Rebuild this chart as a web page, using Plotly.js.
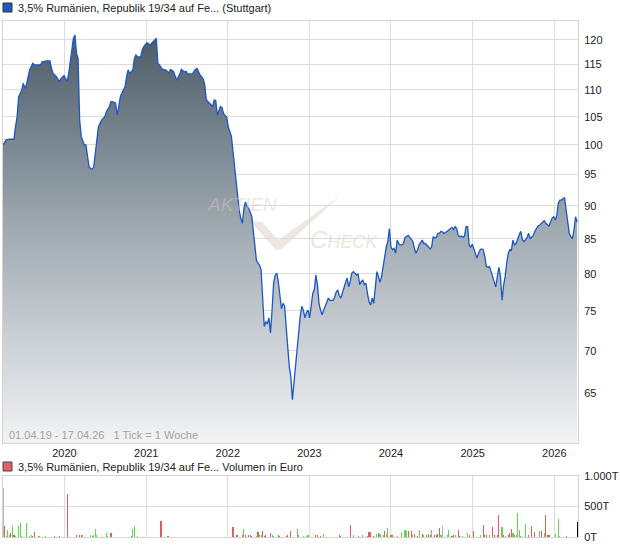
<!DOCTYPE html>
<html>
<head>
<meta charset="utf-8">
<script src="https://cdn.plot.ly/plotly-3.0.1.min.js"></script>
<style>html,body{margin:0;padding:0;background:#fff;}#chart{width:620px;height:546px;}</style>
</head>
<body>
<div id="chart"></div>
<script>
// ---- DATA ----
const startDate = '2019-04-01';
const endDate = '2026-04-17';
const seriesName = '3,5% Rumänien, Republik 19/34 auf Fe... (Stuttgart)';
const volumeName = '3,5% Rumänien, Republik 19/34 auf Fe... Volumen in Euro';
const rangeNote = '01.04.19 - 17.04.26   1 Tick = 1 Woche';

// week index (1 tick = 1 week, counted from startDate) and closing price
const priceWeeks = [
  0,2,4,7,8,9,10,12,13,14,15,17,19,20,24,25,28,30,31,32,34,36,37,39,40,41,42,43,44,45,46,47,48,49,50,51,52,53,54,55,56,57,58,59,60,61,63,65,66,68,69,70,72,73,74,75,76,78,79,80,81,83,84,85,86,88,89,90,92,
  94,95,97,98,99,100,102,104,106,107,109,110,111,113,114,116,117,118,121,123,124,126,128,129,130,132,134,135,136,137,139,140,141,143,144,146,147,148,149,150,151,152,153,154,155,
  156,157,159,160,161,162,163,164,165,166,167,168,169,170,171,172,173,174,175,176,177,178,179,180,181,182,183,184,185,186,187,188,189,190,191,192,193,194,195,196,197,198,199,200,201,202,203,204,205,206,207,208,209,211,212,213,214,215,216,217,218,219,220,221,222,223,224,226,227,228,229,230,231,232,233,234,235,236,237,238,239,240,241,242,243,244,
  245,246,247,248,249,250,251,252,253,254,255,256,257,258,259,261,262,263,264,265,266,268,269,270,271,272,273,274,275,276,277,278,279,280,281,282,284,285,286,287,288,289,290,291,292,293,294,295,296,297,298,299,300,301,302,303,304,305,306,307,308,309,310,311,312,313,314,315,316,317,318,319,320,321,322,323,324,325,326,327,328,329,330,331,332,333,334,335,336,337,338,339,340,341,342,343,344,345,346,347,349,350,351,352,353,354,355,356,357,358,359,360,361,362,363,364,365,366,367
];
const prices = [
  100.0,100.9,101.0,101.0,103.2,105.0,108.7,110.0,111.3,110.3,111.0,113.9,115.2,114.9,114.9,115.5,115.7,115.7,114.2,113.2,112.6,111.6,112.2,112.8,112.2,111.6,113.2,115.9,118.6,120.3,121.0,117.2,116.2,104.4,101.5,100.6,100.0,100.0,98.0,96.3,96.0,95.9,96.3,98.6,101.5,103.2,104.4,105.0,105.9,106.9,107.8,107.8,107.5,105.3,106.9,108.7,109.4,110.6,112.6,113.9,113.2,113.9,116.2,116.9,116.5,116.5,117.9,118.6,119.4,
  118.9,119.3,120.1,120.3,115.2,114.9,114.0,113.9,113.3,114.0,113.6,112.6,111.9,113.1,114.0,113.5,113.6,113.1,113.1,114.0,114.2,112.9,112.1,110.9,108.1,107.5,106.9,108.1,108.0,105.3,106.9,106.7,105.6,104.9,103.2,101.5,99.0,96.0,94.7,92.0,89.3,88.1,87.3,89.6,90.6,
  89.9,89.6,88.4,85.8,83.4,81.9,81.5,81.2,80.5,76.0,73.0,73.6,73.4,74.1,72.2,75.1,78.7,79.8,80.1,78.9,76.9,75.3,76.0,75.7,73.0,70.1,68.1,66.9,64.3,66.2,68.1,70.8,72.2,74.3,75.6,75.1,74.1,74.8,75.1,74.1,75.6,77.3,77.8,79.8,78.5,76.0,75.1,74.5,75.1,75.6,76.0,76.7,76.4,76.4,76.8,77.5,77.8,77.0,76.7,77.5,78.2,78.8,79.4,78.2,79.0,80.1,80.3,79.8,80.0,78.5,78.9,79.1,78.5,78.7,77.3,76.2,75.8,76.7,76.0,78.0,80.3,79.6,78.8,79.6,81.0,82.9,
  83.8,84.6,86.5,83.8,83.4,83.6,82.9,84.8,84.3,84.1,84.1,84.3,85.2,85.3,85.5,84.9,84.6,83.6,82.9,83.4,84.1,84.8,84.3,84.3,84.1,83.8,83.5,83.8,85.3,85.1,85.2,85.8,85.8,86.1,86.0,85.8,86.1,86.3,86.5,86.7,86.4,86.8,86.5,85.5,85.3,85.4,85.2,85.4,86.8,86.8,84.1,83.8,84.2,83.4,82.9,82.2,82.9,83.4,83.5,83.4,82.4,81.0,80.9,81.0,80.3,79.6,78.7,78.2,79.6,80.9,79.6,76.4,78.4,79.6,81.5,82.9,83.4,83.3,84.8,84.1,84.3,85.1,85.6,86.1,84.9,84.6,84.8,85.2,85.8,85.0,85.3,85.5,86.1,86.5,86.9,87.0,87.3,87.5,87.7,87.3,86.9,87.5,88.1,88.3,87.8,88.5,90.4,90.9,90.9,91.1,91.3,89.3,87.0,85.8,85.3,85.0,86.3,88.3,87.5
];

// weekly volume in thousand euro (T); direction: u = up (green), d = down (red), n = unchanged (grey)
const volWeeks = [0,1,2,3,4,5,6,7,8,10,11,12,15,17,18,19,20,23,27,33,36,41,47,49,50,51,56,57,58,59,60,66,67,69,82,83,84,86,101,105,106,147,149,150,153,154,155,157,158,159,162,163,164,165,166,167,168,171,172,173,176,177,181,182,184,188,189,192,194,195,200,201,203,205,215,216,222,224,227,230,233,234,235,237,239,240,241,243,244,245,246,248,249,252,255,257,258,259,261,262,263,265,266,268,269,271,272,273,274,276,277,278,279,280,281,284,285,287,288,289,291,292,294,297,298,301,305,307,308,309,311,313,314,316,317,319,320,321,323,324,325,326,327,328,329,330,331,334,336,338,340,343,344,346,347,348,349,353,355,356,360,367];
const volumes = [802,176,22,110,33,60,176,27,11,176,225,11,225,11,27,22,77,11,11,11,11,704,27,27,27,27,27,11,33,127,27,60,11,60,11,127,176,11,259,11,11,160,27,27,27,127,27,27,27,11,11,77,27,27,94,11,27,60,27,11,27,11,11,27,94,127,27,11,11,27,27,27,11,44,27,11,192,27,11,27,11,77,77,11,44,60,44,27,94,44,143,27,27,11,77,110,94,94,94,27,44,11,110,44,27,27,44,27,110,27,27,44,143,27,198,27,110,11,27,27,110,11,11,60,27,94,27,192,27,27,27,160,27,27,363,160,27,11,27,60,127,60,27,27,390,110,11,209,27,176,77,94,94,60,363,27,27,44,297,11,11,253];
const volDir = ['n','d','u','u','u','d','u','d','u','u','u','u','u','u','u','d','d','u','u','d','d','d','d','d','d','u','u','d','u','u','u','u','u','d','d','u','u','u','d','d','d','d','d','d','d','u','d','d','d','d','u','d','u','u','d','d','d','d','u','u','d','d','d','d','d','u','d','u','u','u','d','d','d','u','d','d','d','u','d','u','d','d','d','d','u','d','u','u','d','u','u','d','d','u','u','u','u','d','d','u','d','d','u','d','u','d','d','d','u','d','d','d','d','u','n','u','u','d','d','u','d','d','u','u','d','d','u','d','d','d','u','d','d','d','d','u','d','u','d','d','d','u','d','u','u','u','d','u','d','d','d','u','d','u','d','d','d','u','u','u','d'];

const yTicks = [65,70,75,80,85,90,95,100,105,110,115,120];
const volTicks = [0,500,1000];
const volTickText = ['0T','500T','1.000T'];

// ---- helpers ----
const DAY = 86400000;
const t0 = Date.UTC(2019,3,1);
function weekDate(w){ return new Date(t0 + w*7*DAY).toISOString().slice(0,10); }
const M = {l:3, r:42, t:21, b:9};
const PW = 620 - M.l - M.r, PH = 546 - M.t - M.b;
const px = x => (x - M.l) / PW;          // pixel -> paper (decorations only)
const py = y => (546 - M.b - y) / PH;

const priceDates = priceWeeks.map(weekDate);
const volDates = volWeeks.map(weekDate);
const dirColor = {u:'#5fd94f', d:'#dd5f5f', n:'#b9b9b9'};

const font = 'Liberation Sans, Arial, sans-serif';
const grid = '#dcdcdc';

const traces = [
  {
    type:'scatter', mode:'lines', x: priceDates, y: prices, xaxis:'x', yaxis:'y',
    line:{color:'#1d56c6', width:1.3},
    fill:'tozeroy',
    fillgradient:{type:'vertical', start: 59.7, stop: 121.5,
      colorscale:[[0,'#f2f3f5'],[0.5,'#a3adb4'],[1,'#4a5b67']]},
    hoverinfo:'skip'
  },
  {
    type:'bar', x: volDates, y: volumes, xaxis:'x2', yaxis:'y2',
    width: 5*DAY,
    marker:{color: volDir.map(d => dirColor[d]), line:{width:0}},
    hoverinfo:'skip'
  }
];

const commonX = {
  type:'date', range:[startDate, endDate], tick0:'2020-01-01', dtick:'M12',
  tickformat:'%Y', showgrid:true, gridcolor:grid, gridwidth:1, zeroline:false,
  showline:true, linecolor:'#d4d4d4', linewidth:1, mirror:true, ticks:''
};

const layout = {
  width:620, height:546, margin:M, paper_bgcolor:'#fff', plot_bgcolor:'#fff',
  showlegend:false, font:{family:font, size:11, color:'#222'},
  xaxis: Object.assign({}, commonX, {anchor:'y', tickfont:{size:11, color:'#222'}}),
  xaxis2: Object.assign({}, commonX, {anchor:'y2', matches:'x', showticklabels:false}),
  yaxis:{
    type:'log', domain:[(546-M.b-443)/PH, 1],
    range:[Math.log10(59.66), Math.log10(123.97)],
    side:'right', tickvals:yTicks, ticktext:yTicks.map(String), ticks:'',
    showgrid:true, gridcolor:grid, zeroline:false,
    showline:true, linecolor:'#d4d4d4', mirror:true,
    tickfont:{size:11, color:'#222'}, ticklabelstandoff:3
  },
  yaxis2:{
    domain:[0, (546-M.b-476)/PH], range:[0,1000], side:'right',
    tickvals:volTicks, ticktext:volTickText, ticks:'',
    showgrid:true, gridcolor:grid, zeroline:false,
    showline:true, linecolor:'#d4d4d4', mirror:true,
    tickfont:{size:11, color:'#222'}, ticklabelstandoff:3
  },
  bargap:0,
  shapes:[
    {type:'rect', xref:'paper', yref:'paper', x0:px(3), x1:px(12), y0:py(12), y1:py(3),
     fillcolor:'#2257c0', line:{color:'#333', width:1}},
    {type:'rect', xref:'paper', yref:'paper', x0:px(3), x1:px(12), y0:py(471), y1:py(462),
     fillcolor:'#e06262', line:{color:'#444', width:1}},
    {type:'path', xref:'paper', yref:'paper', layer:'below',
     path:'M '+px(250)+','+py(221)+' L '+px(262)+','+py(222)+' L '+px(278)+','+py(240)+
          ' L '+px(340)+','+py(196)+' L '+px(282)+','+py(249)+' L '+px(276)+','+py(250)+' Z',
     fillcolor:'#ece7e1', line:{width:0}}
  ],
  annotations:[
    {xref:'paper', yref:'paper', x:px(16), y:py(8), xanchor:'left', yanchor:'middle',
     text:seriesName, showarrow:false, font:{size:11, color:'#222'}},
    {xref:'paper', yref:'paper', x:px(16), y:py(467), xanchor:'left', yanchor:'middle',
     text:volumeName, showarrow:false, font:{size:11, color:'#222'}},
    {xref:'paper', yref:'paper', x:px(7), y:py(435), xanchor:'left', yanchor:'middle',
     text:rangeNote, showarrow:false, font:{size:11, color:'#a3a3a3'}},
    {xref:'paper', yref:'paper', x:px(279), y:py(205), xanchor:'right', yanchor:'middle',
     text:'<i>AKTIEN</i>', showarrow:false, font:{size:19, color:'rgba(214,204,190,0.45)'}},
    {xref:'paper', yref:'paper', x:px(308), y:py(239), xanchor:'left', yanchor:'middle',
     text:'<i><span style="font-size:24px">C</span>HECK</i>', showarrow:false,
     font:{size:18, color:'rgba(214,204,190,0.5)'}}
  ]
};

Plotly.newPlot('chart', traces, layout, {staticPlot:true, displayModeBar:false});
</script>
</body>
</html>
